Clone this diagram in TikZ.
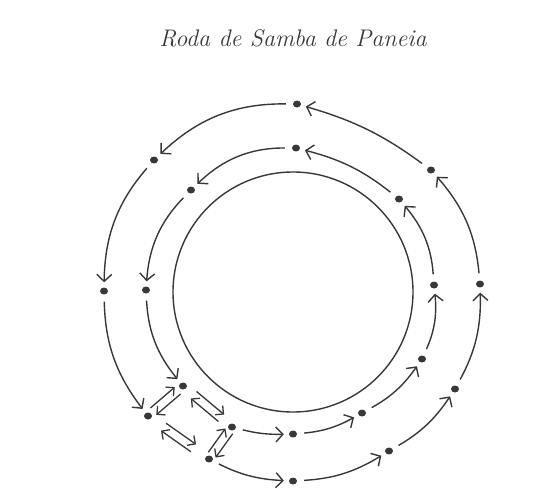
\documentclass[tikz,border=0pt]{standalone}
\usetikzlibrary{arrows.meta, calc, shapes.geometric}
\colorlet{ink}{black!78}
\tikzset{
  dot/.style={ellipse, fill=ink, inner sep=0pt, minimum width=8pt, minimum height=7pt},
  flow/.style={ink, line width=1.4pt, -{Straight Barb[length=7pt,width=15pt,line width=1.4pt]}, shorten <=7pt, shorten >=5pt},
  pair/.style={ink, line width=1.3pt, -{Straight Barb[length=6pt,width=12pt,line width=1.3pt]}},
}

\begin{document}
\begin{tikzpicture}[x=1pt, y=-1pt]
\useasboundingbox (0,0) rectangle (560,488);
\node[font=\fontsize{24}{28}\selectfont\itshape, text=ink] (title) at (293,38) {Roda de Samba de Paneia};
\draw[ink, line width=1.4pt] (293,292) circle (120);
% outer and inner ring of players
\foreach \n/\p in {o1/{297,104}, o2/{154,160}, o3/{104,291}, o4/{148,416}, o5/{209,459},
                   o6/{293,481}, o7/{389,451}, o8/{455,389}, o9/{480,284}, o10/{431,170},
                   i1/{296,148}, i2/{191,190}, i3/{146,290}, i4/{183,386}, i5/{232,427},
                   i6/{293,434}, i7/{362,413}, i8/{422,359}, i9/{434,285}, i10/{399,199}}
  \node[dot] (\n) at (\p) {};
\foreach \a/\b/\c in {o1/o2/22, o2/o3/20, o3/o4/18, o5/o6/12, o6/o7/14, o7/o8/13, o8/o9/15, o9/o10/18, o10/o1/10,
                      i1/i2/22, i2/i3/20, i3/i4/18, i5/i6/8, i6/i7/12, i7/i8/13, i8/i9/15, i9/i10/18, i10/i1/12}
  \draw[flow] (\a) to[bend right=\c] (\b);
% swaps
\foreach \a/\b/\s in {i4/i5/14pt, o4/o5/19pt, i4/o4/7pt, i5/o5/5pt} {
  \draw[pair, shorten <=\s, shorten >=\s] ($(\a)!4.5pt!90:(\b)$) -- ($(\b)!4.5pt!-90:(\a)$);
  \draw[pair, shorten <=\s, shorten >=\s] ($(\b)!4.5pt!90:(\a)$) -- ($(\a)!4.5pt!-90:(\b)$);
}
\end{tikzpicture}
\end{document}
